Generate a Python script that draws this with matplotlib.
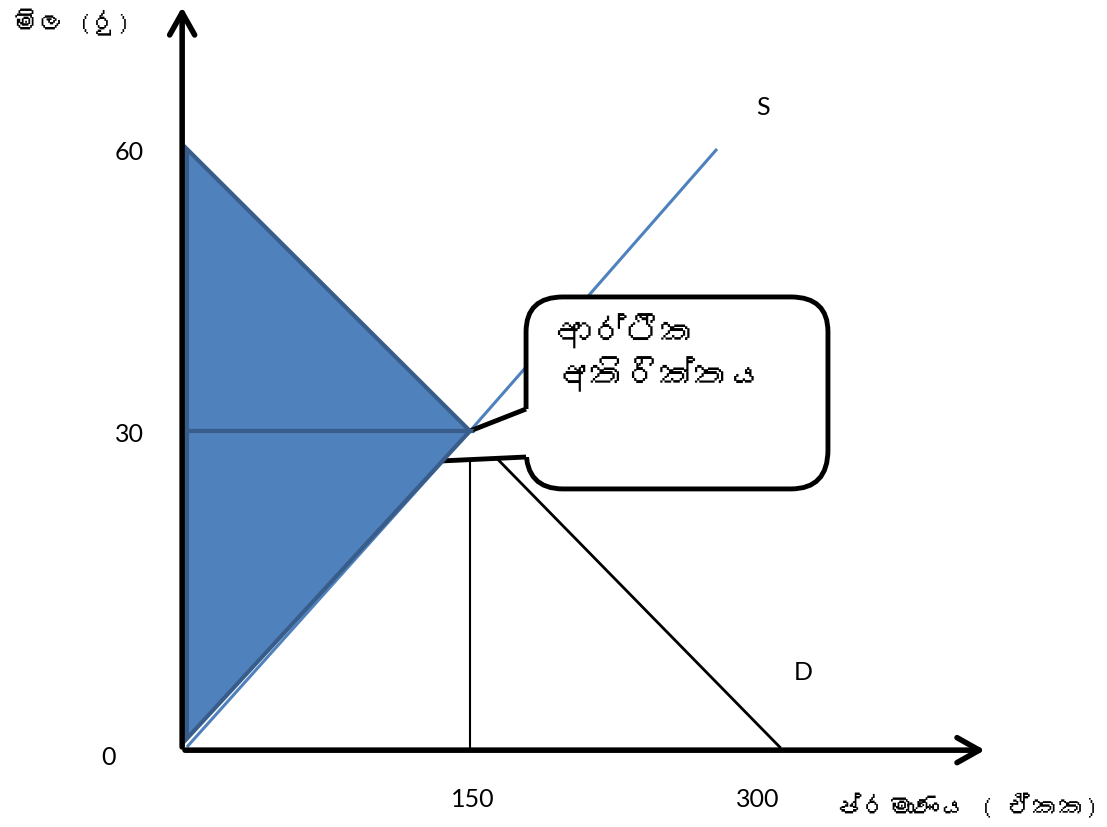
import numpy as np
import matplotlib
matplotlib.use("Agg")
import matplotlib.pyplot as plt
from matplotlib import font_manager
from matplotlib.ft2font import FT2Font
from matplotlib.patches import Polygon, FancyBboxPatch

# data
price_ticks = [0, 30, 60]
price_labels = ["0", "30", "60"]
qty_ticks = [150, 300]
qty_labels = ["150", "300"]
supply_q = [1, 150, 280]
supply_p = [0, 30, 60]
demand_q = [0, 150, 313]
demand_p = [60, 30, 0]
eq_q, eq_p = 150, 30

y_title = "මිල (රු)"
x_title = "ප්රමාණය ( ඒකක)"
callout_text = "ආර්ථික\nඅතිරික්තය"

blue = "#4F81BD"
dark_blue = "#385D8A"


def sinhala_family():
    # find any installed font that has sinhala glyphs
    for f in font_manager.fontManager.ttflist:
        try:
            if 0x0DBA in FT2Font(f.fname).get_charmap():
                return [f.name, "DejaVu Sans"]
        except Exception:
            continue
    return ["DejaVu Sans"]


# price axis is drawn a bit stretched below 30, like in the sketch
def fwd(p):
    p = np.asarray(p, float)
    return np.where(p < 30, p * 316 / 30, 316 + (p - 30) * 282 / 30)


def inv(h):
    h = np.asarray(h, float)
    return np.where(h < 316, h * 30 / 316, 30 + (h - 316) * 30 / 282)


si_font = sinhala_family()
num_font = ["Lato", "DejaVu Sans"]

fig = plt.figure(figsize=(11.07, 8.28), dpi=100)
ax = fig.add_axes([0, 0, 1, 1])
ax.set_yscale("function", functions=(fwd, inv))
ax.set_xlim(-185 / 1.9, (1107 - 185) / 1.9)
ax.set_ylim(float(inv(-80)), float(inv(748)))
ax.axis("off")

# supply line
ax.plot(supply_q, supply_p, color=blue, lw=2.2, zorder=2, solid_capstyle="butt")
# demand below the equilibrium
ax.plot(demand_q[1:], demand_p[1:], color="black", lw=2, zorder=2)
# equilibrium quantity drop line
ax.plot([eq_q, eq_q], [0, 27.2], color="black", lw=1.5, zorder=2)

# callout box
box = FancyBboxPatch((179.5, 24.5), 338.4 - 179.5, 44.26 - 24.5,
                     boxstyle="round,pad=0,rounding_size=19.5",
                     mutation_aspect=0.19, facecolor="white",
                     edgecolor="black", lw=3.5, zorder=3)
ax.add_patch(box)
tail = Polygon([(183, 32.34), (179.5, 32.34), (eq_q, eq_p), (134, 27.15),
                (179.5, 27.53), (183, 27.53)],
               closed=True, facecolor="white", edgecolor="none", zorder=4)
ax.add_patch(tail)
ax.plot([179.5, eq_q], [32.34, eq_p], color="black", lw=3.5, zorder=5,
        solid_capstyle="butt")
ax.plot([134, 179.5], [27.15, 27.53], color="black", lw=3.5, zorder=5,
        solid_capstyle="butt")
ax.text(195.8, 42.6, callout_text, family=si_font, fontsize=25,
        va="top", ha="left", linespacing=1.25, zorder=8)

# shaded surplus triangles
cs = Polygon([(1, demand_p[0]), (eq_q, eq_p), (1, eq_p)], closed=True,
             facecolor=blue, edgecolor=dark_blue, lw=3, zorder=6)
ps = Polygon([(1, eq_p), (eq_q, eq_p), (1, 0.8)], closed=True,
             facecolor=blue, edgecolor=dark_blue, lw=3, zorder=6)
ax.add_patch(cs)
ax.add_patch(ps)

# axes with arrow heads
arrow = dict(arrowstyle="->,head_length=0.8,head_width=0.45", lw=4,
             color="black", shrinkA=0, shrinkB=0, mutation_scale=20,
             capstyle="round", joinstyle="round")
ax.annotate("", xy=(-1.5, 75.1), xytext=(-1.5, 0), arrowprops=arrow, zorder=7)
ax.annotate("", xy=(421, -0.3), xytext=(0, -0.3), arrowprops=arrow, zorder=7)

# tick labels
for v, lbl in zip(price_ticks, price_labels):
    if v == 0:
        ax.annotate(lbl, xy=(0, v), xytext=(-55, -7), textcoords="offset points",
                    ha="center", va="center", fontsize=18, family=num_font)
    else:
        ax.annotate(lbl, xy=(0, v), xytext=(-40, -2), textcoords="offset points",
                    ha="center", va="center", fontsize=18, family=num_font)
for v, lbl in zip(qty_ticks, qty_labels):
    ax.annotate(lbl, xy=(v, 0), xytext=(2, -37), textcoords="offset points",
                ha="center", va="center", fontsize=18, family=num_font)

ax.text(304.2, 64.5, "S", fontsize=18, family=num_font, ha="center", va="center")
ax.text(325.3, 7.2, "D", fontsize=18, family=num_font, ha="center", va="center")

# axis titles
ax.text(-91, 73.6, y_title, family=si_font, fontsize=19, ha="left", va="center")
ax.text(481, -5.6, x_title, family=si_font, fontsize=19, ha="right", va="center")

fig.savefig("out.png", dpi=100)
